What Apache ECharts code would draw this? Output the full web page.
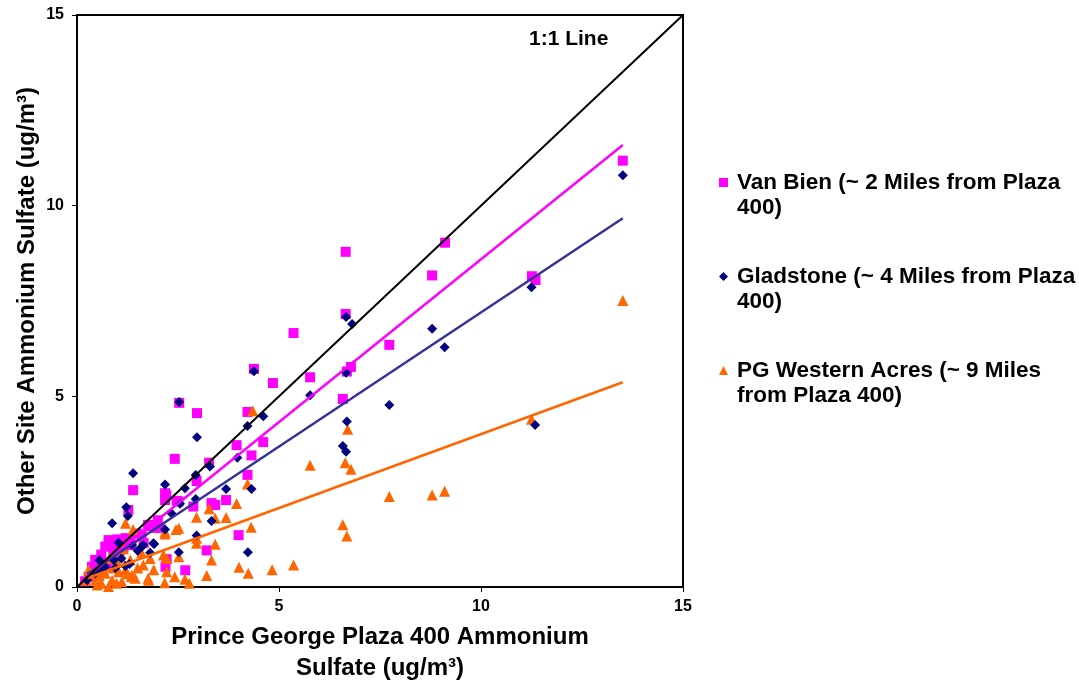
<!DOCTYPE html>
<html>
<head>
<meta charset="utf-8">
<script src="https://cdn.jsdelivr.net/npm/echarts@6/dist/echarts.min.js"></script>
<style>
html,body{margin:0;padding:0;background:#fff;}
#c{width:1079px;height:685px;}
</style>
</head>
<body>
<div id="c"></div>
<script>
// Axis ticks
var axisTicks = [0, 5, 10, 15];

// Series names
var seriesNames = [
  'Van Bien (~ 2 Miles from Plaza 400)',
  'Gladstone (~ 4 Miles from Plaza 400)',
  'PG Western Acres (~ 9 Miles from Plaza 400)'
];

// Van Bien [Plaza400, VanBien]
var vanBien = [
  [13.51,11.18],[11.26,8.15],[11.35,8.05],[9.11,9.03],[8.79,8.17],[7.73,6.35],[6.65,8.79],[6.65,7.16],
  [6.78,5.77],[6.68,5.65],[6.58,4.93],[5.77,5.50],[5.36,6.66],[4.85,5.35],[4.38,5.72],[4.61,3.80],
  [4.22,4.59],[4.32,3.45],[4.22,2.94],[3.95,3.72],[4.00,1.36],[3.69,2.28],[3.42,2.15],[3.33,2.20],
  [3.27,3.26],[3.21,0.96],[2.97,4.56],[2.96,2.78],[2.88,2.11],[2.68,0.44],[2.53,4.83],[2.51,2.24],
  [2.47,2.26],[2.42,3.36],[2.22,0.73],[2.19,0.53],[2.21,2.40],[2.18,2.46],[2.18,2.28],[1.39,2.54],
  [1.27,2.02],[1.65,1.15],[1.28,1.23],[0.95,0.79],[0.78,1.23],[0.70,1.06],[0.45,0.71],[0.37,0.53],
  [0.29,0.27],[0.85,1.20],[1.00,1.25],[1.10,1.22],[1.20,1.28],[0.90,0.95],[1.05,0.90],[1.15,1.05],
  [0.60,0.85],[0.55,0.65],[1.50,1.40],[1.80,1.60],[1.60,1.35],[1.35,1.10],[0.20,0.15],[0.40,0.40],
  [2.00,1.75],[1.95,1.55],[0.80,0.60],[1.76,1.63],[2.05,1.55]
];

// Gladstone [Plaza400, Gladstone]
var gladstone = [
  [13.51,10.80],[11.25,7.86],[11.34,4.25],[9.10,6.29],[8.79,6.77],[7.73,4.77],[6.66,7.08],[6.81,6.90],
  [6.66,5.62],[6.68,4.34],[6.58,3.70],[6.66,3.55],[5.77,5.03],[4.38,5.66],[4.61,4.48],[4.22,4.22],
  [4.32,2.57],[4.23,0.91],[3.97,3.39],[3.69,2.57],[3.33,1.73],[3.29,3.16],[2.97,3.93],[2.94,2.94],
  [2.94,2.31],[2.96,1.35],[2.67,2.59],[2.55,2.18],[2.53,4.85],[2.52,0.91],[2.34,1.93],[2.18,2.69],
  [2.18,1.51],[1.91,1.13],[1.89,1.15],[1.81,0.90],[1.64,1.10],[1.61,1.06],[1.39,2.98],[1.36,1.10],
  [1.26,1.86],[1.22,2.09],[1.03,1.16],[0.91,0.71],[0.87,1.67],[0.70,0.53],[0.45,0.36],[0.25,0.18],
  [1.10,0.75],[1.50,0.95],[0.60,0.45],[1.20,0.55],[0.95,0.50],[1.30,0.60],[0.55,0.70]
];

// PG Western Acres [Plaza400, WesternAcres]
var westernAcres = [
  [13.51,7.51],[11.25,4.40],[9.10,2.51],[8.79,2.41],[7.73,2.37],[6.70,4.14],[6.64,3.26],[6.78,3.09],
  [6.58,1.63],[6.68,1.34],[5.77,3.19],[5.36,0.58],[4.83,0.45],[4.35,4.62],[4.22,2.70],[4.31,1.57],
  [4.24,0.36],[4.01,0.52],[3.95,2.19],[3.69,1.82],[3.42,1.80],[3.42,1.12],[3.33,0.71],[3.27,2.05],
  [3.21,0.30],[2.96,1.83],[2.96,1.28],[2.96,1.15],[2.78,0.10],[2.67,0.20],[2.52,1.54],[2.45,1.51],
  [2.52,0.79],[2.42,0.27],[2.22,0.40],[2.22,0.75],[2.18,1.39],[2.18,1.45],[2.14,0.84],[2.17,0.11],
  [1.81,0.75],[1.77,0.18],[1.76,0.23],[1.64,0.58],[1.44,0.23],[1.39,1.51],[1.36,0.31],[1.35,0.27],
  [1.32,0.71],[1.20,1.67],[1.11,0.14],[1.07,0.79],[1.03,0.40],[0.98,0.10],[0.87,0.18],[0.78,0.01],
  [0.70,0.36],[0.45,0.18],[0.37,0.36],[0.29,0.45],[0.21,0.18],[0.55,0.30],[0.60,0.10],[0.90,0.50],
  [1.20,0.45],[1.50,0.50],[0.65,0.60],[1.00,0.65],[1.25,0.35],[0.50,0.05],[0.80,0.75],[1.60,0.90],
  [1.90,0.45],[1.15,1.00]
];

// Trend lines (endpoints) and 1:1 line
var vanBienTrend = [[0.25,0.27],[13.51,11.59]];
var gladstoneTrend = [[0.25,0.34],[13.51,9.67]];
var westernTrend = [[0.25,0.23],[13.51,5.37]];
var oneToOne = [[0,0],[15,15]];

var FONT = '"Liberation Sans", Arial, sans-serif';
var legendLines = {};
legendLines[seriesNames[0]] = '\nVan Bien (~ 2 Miles from Plaza\n400)';
legendLines[seriesNames[1]] = '\nGladstone (~ 4 Miles from Plaza\n400)';
legendLines[seriesNames[2]] = '\nPG Western Acres (~ 9 Miles\nfrom Plaza 400)';

var chart = echarts.init(document.getElementById('c'), null, {renderer: 'canvas'});

function axisCommon() {
  return {
    type: 'value', min: 0, max: 15, interval: 5,
    splitLine: {show: false},
    nameMoveOverlap: false,
    axisLine: {show: true, onZero: false, lineStyle: {color: '#000', width: 2}},
    axisTick: {show: true, inside: false, length: 5, lineStyle: {color: '#000', width: 1}},
    axisLabel: {color: '#000', fontWeight: 'bold', fontSize: 16, fontFamily: FONT},
    nameTextStyle: {color: '#000', fontWeight: 'bold', fontSize: 24, fontFamily: FONT}
  };
}

var xAxis = axisCommon();
xAxis.name = 'Prince George Plaza 400 Ammonium\nSulfate (ug/m\u00B3)';
xAxis.nameLocation = 'middle';
xAxis.nameGap = 35;
xAxis.nameTextStyle.lineHeight = 31;
xAxis.nameTextStyle.verticalAlign = 'top';
xAxis.axisLabel.margin = 12;

var yAxis = axisCommon();
yAxis.name = 'Other Site Ammonium Sulfate (ug/m\u00B3)';
yAxis.nameLocation = 'middle';
yAxis.nameGap = 38;
yAxis.axisLabel.margin = 13;

function scatter(name, data, symbol, size, color, z) {
  return {
    name: name, type: 'scatter', data: data, symbol: symbol, symbolSize: size,
    itemStyle: {color: color, opacity: 1}, z: z, silent: true
  };
}
function line(name, data, color, width, z) {
  return {
    name: name, type: 'line', data: data, symbol: 'none', showSymbol: false,
    lineStyle: {color: color, width: width}, z: z, silent: true
  };
}

var option = {
  animation: false,
  backgroundColor: '#fff',
  grid: {left: 77, top: 15, width: 606, height: 572, show: true, borderColor: '#000', borderWidth: 2,
         containLabel: false, outerBoundsMode: 'none'},
  xAxis: xAxis,
  yAxis: yAxis,
  legend: {
    orient: 'vertical', left: 714, top: 140, itemGap: 19,
    itemWidth: 9, itemHeight: 9,
    selectedMode: false,
    data: [
      {name: seriesNames[0], icon: 'rect', itemStyle: {color: '#FF00FF'}},
      {name: seriesNames[1], icon: 'diamond', itemStyle: {color: '#000080'}},
      {name: seriesNames[2], icon: 'triangle', itemStyle: {color: '#FF6600'}}
    ],
    formatter: function (n) { return legendLines[n]; },
    textStyle: {color: '#000', fontWeight: 'bold', fontSize: 22.5, fontFamily: FONT, lineHeight: 25, padding: [0, 0, 0, 4]}
  },
  graphic: [{
    type: 'text', left: 529, top: 29,
    style: {text: '1:1 Line', fill: '#000', font: 'bold 21px ' + FONT}
  }],
  series: [
    scatter(seriesNames[0], vanBien, 'rect', 10, '#FF00FF', 2),
    scatter(seriesNames[2], westernAcres, 'triangle', 11, '#FF6600', 3),
    scatter(seriesNames[1], gladstone, 'diamond', 10, '#000080', 4),
    line('vb trend', vanBienTrend, '#FF00FF', 2.5, 5),
    line('gs trend', gladstoneTrend, '#333399', 2.5, 5),
    line('wa trend', westernTrend, '#FF6600', 2.5, 5),
    line('1:1', oneToOne, '#000', 2, 6)
  ]
};
chart.setOption(option);
</script>
</body>
</html>
